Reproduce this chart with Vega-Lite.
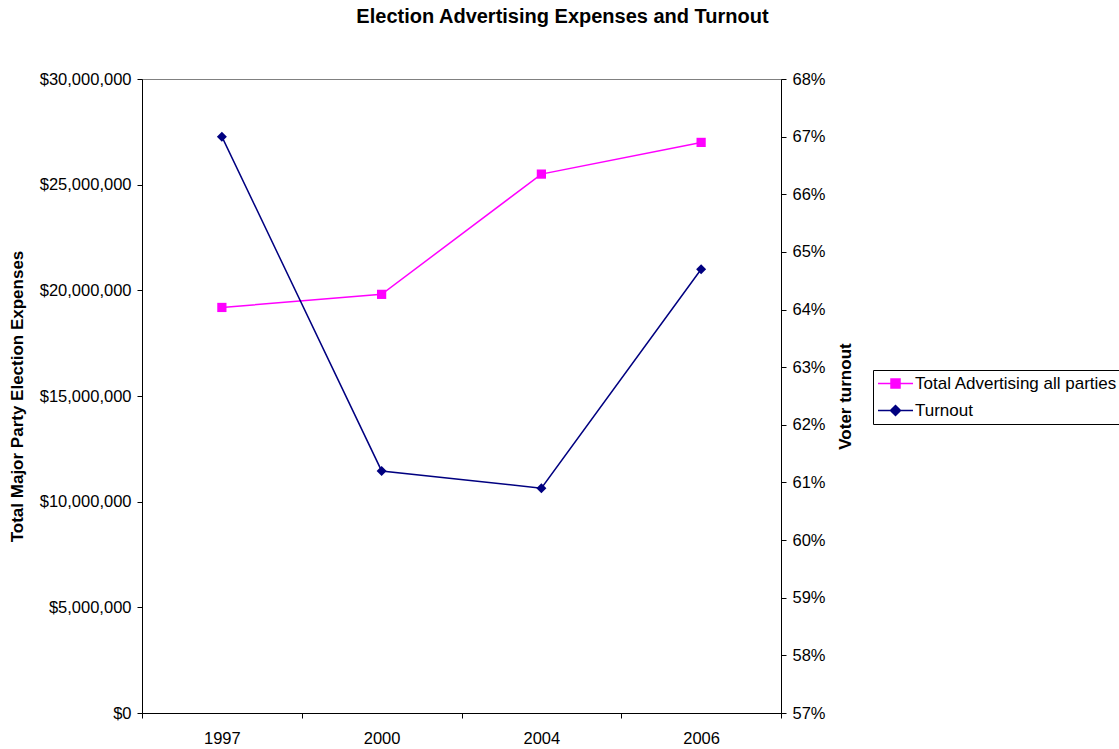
{
  "$schema": "https://vega.github.io/schema/vega-lite/v6.json",
  "width": 639,
  "height": 634,
  "autosize": {"type": "none"},
  "padding": {"left": 142, "top": 79, "right": 338, "bottom": 36},
  "background": "white",
  "config": {
    "font": "Liberation Sans",
    "view": {"stroke": "#808080"},
    "axis": {"labelFont": "Liberation Sans", "labelFontSize": 16.5, "labelColor": "black", "domainColor": "black", "tickColor": "black", "grid": false, "titleFont": "Liberation Sans", "titleFontSize": 17, "titleFontWeight": "bold", "titleColor": "black"}
  },
  "title": {"text": "Election Advertising Expenses and Turnout", "font": "Liberation Sans", "fontSize": 20, "fontWeight": "bold", "color": "black", "anchor": "middle", "dx": 101, "offset": 28, "baseline": "alphabetic"},
  "data": {
    "values": [
      {"year": "1997", "series": "Total Advertising all parties", "value": 19190000},
      {"year": "2000", "series": "Total Advertising all parties", "value": 19810000},
      {"year": "2004", "series": "Total Advertising all parties", "value": 25500000},
      {"year": "2006", "series": "Total Advertising all parties", "value": 27000000},
      {"year": "1997", "series": "Turnout", "value": 0.670},
      {"year": "2000", "series": "Turnout", "value": 0.612},
      {"year": "2004", "series": "Turnout", "value": 0.609},
      {"year": "2006", "series": "Turnout", "value": 0.647}
    ]
  },
  "encoding": {
    "x": {"field": "year", "type": "ordinal", "scale": {"type": "band", "paddingInner": 0, "paddingOuter": 0},
      "axis": {"title": null, "labelAngle": 0, "tickBand": "extent", "tickSize": 5, "labelPadding": 12}},
    "color": {"field": "series", "type": "nominal",
      "scale": {"domain": ["Total Advertising all parties", "Turnout"], "range": ["#ff00ff", "#000080"]},
      "legend": {"title": null, "orient": "none", "legendX": 731, "legendY": 291, "padding": 5,
        "strokeColor": "black", "fillColor": "white", "labelFont": "Liberation Sans", "labelFontSize": 17, "labelColor": "black", "labelLimit": 400,
        "symbolSize": 100, "symbolOffset": 9, "labelOffset": 11, "rowPadding": 9, "symbolStrokeWidth": 1.5,
        "encode": {"symbols": {"update": {
          "shape": {"signal": "datum.value == 'Turnout' ? 'M-3.5,0H3.5M0,-1L1,0L0,1L-1,0Z' : 'M-3.5,0H3.5M-0.9,-0.9H0.9V0.9H-0.9Z'"},
          "fill": {"signal": "datum.value == 'Turnout' ? '#000080' : '#ff00ff'"},
          "stroke": {"signal": "datum.value == 'Turnout' ? '#000080' : '#ff00ff'"},
          "fillOpacity": {"value": 1}, "opacity": {"value": 1}
        }}}}
    }
  },
  "layer": [
    {
      "transform": [{"filter": "datum.series == 'Total Advertising all parties'"}],
      "encoding": {
        "y": {"field": "value", "type": "quantitative",
          "scale": {"domain": [0, 30000000], "nice": false, "zero": true},
          "axis": {"orient": "left", "values": [0, 5000000, 10000000, 15000000, 20000000, 25000000, 30000000], "format": "$,.0f", "tickSize": 5, "labelPadding": 6,
            "title": "Total Major Party Election Expenses", "titleAngle": 270, "titleX": -125, "titleY": 317, "titleAlign": "center", "titleBaseline": "middle"}}
      },
      "layer": [
        {"mark": {"type": "line", "strokeWidth": 1.5}},
        {"mark": {"type": "point", "shape": "square", "filled": true, "size": 85, "opacity": 1}}
      ]
    },
    {
      "transform": [{"filter": "datum.series == 'Turnout'"}],
      "encoding": {
        "y": {"field": "value", "type": "quantitative",
          "scale": {"domain": [0.57, 0.68], "nice": false, "zero": false},
          "axis": {"orient": "right", "values": [0.57, 0.58, 0.59, 0.60, 0.61, 0.62, 0.63, 0.64, 0.65, 0.66, 0.67, 0.68], "format": ".0%", "tickSize": 5, "labelPadding": 6,
            "title": "Voter turnout", "titleAngle": 270, "titleX": 64, "titleY": 317, "titleAlign": "center", "titleBaseline": "middle"}}
      },
      "layer": [
        {"mark": {"type": "line", "strokeWidth": 1.5}},
        {"mark": {"type": "point", "shape": "diamond", "filled": true, "size": 100, "opacity": 1}}
      ]
    }
  ],
  "resolve": {"scale": {"y": "independent"}, "axis": {"y": "independent"}}
}
